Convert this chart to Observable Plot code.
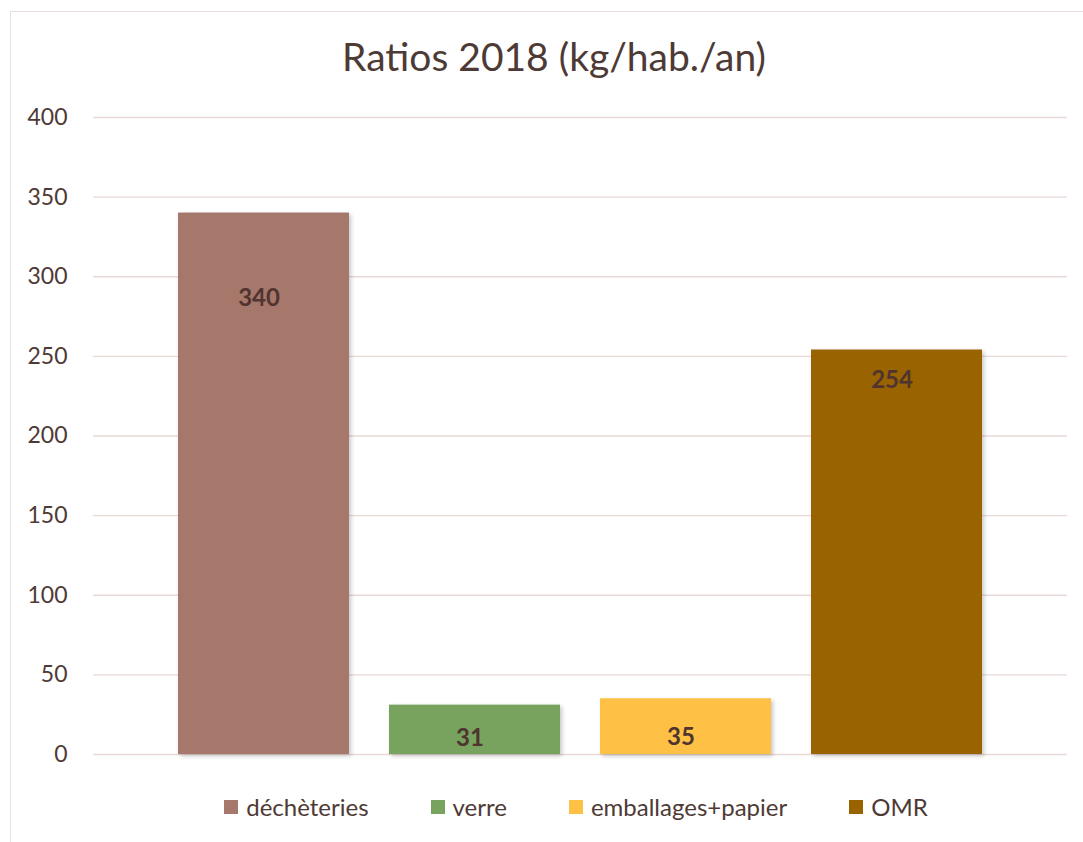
<!DOCTYPE html>
<html><head><meta charset="utf-8">
<script src="https://cdn.jsdelivr.net/npm/d3@7"></script>
<script src="https://cdn.jsdelivr.net/npm/@observablehq/plot@0.6"></script>
<style>
body{margin:0;background:#fff;font-family:Lato,"Open Sans",sans-serif;color:#4E3A35;}
#frame{position:absolute;left:10px;top:11px;width:1100px;height:900px;border-left:1.5px solid #EADFDB;border-top:1.5px solid #EADFDB;}
#title{position:absolute;left:0;width:1108px;top:33px;text-align:center;font-size:39px;color:#4E3A35;}
#chart{position:absolute;left:0;top:100px;}
#legend{position:absolute;left:0;width:1152px;top:792px;display:flex;justify-content:center;gap:62px;font-size:24px;color:#4E3A35;}
#legend .it{display:flex;align-items:center;}
#legend .sw{width:14px;height:14px;margin-right:8px;}
</style></head>
<body>
<div id="frame"></div>
<div id="title">Ratios 2018 (kg/hab./an)</div>
<div id="chart"></div>
<div id="legend"></div>
<script>
const categories = ["déchèteries", "verre", "emballages+papier", "OMR"];
const values = [340, 31, 35, 254];
const colors = ["#A6776B", "#77A35F", "#FFC145", "#996300"];
const yTicks = [0, 50, 100, 150, 200, 250, 300, 350, 400];
const labelOffsets = [85, 33, 39, 30];

const data = categories.map((c, i) => ({cat: c, value: values[i]}));

const labelMarks = data.map((d, i) =>
  Plot.text([d], {x: "cat", y: "value", text: dd => String(dd.value), dy: labelOffsets[i], dx: -5,
    fill: "#50342F", fontWeight: "bold", fontSize: 24}));

const chart = Plot.plot({
  width: 1083, height: 680,
  marginTop: 17, marginBottom: 26, marginLeft: 93, marginRight: 16,
  style: {fontFamily: "Lato, 'Open Sans', sans-serif", fontSize: "23px", color: "#4E3A35", background: "transparent"},
  x: {type: "band", domain: categories, range: [177, 982], paddingInner: 0.19, paddingOuter: 0, axis: null},
  y: {domain: [0, 400], ticks: yTicks, tickSize: 0, tickPadding: 26, label: null, tickFormat: d => String(d)},
  color: {domain: categories, range: colors},
  marks: [
    Plot.ruleY(yTicks, {stroke: "#E8D9D6", strokeWidth: 1.3}),
    Plot.barY(data, {x: "cat", y: "value", fill: "cat"}),
    ...labelMarks
  ]
});
const yax = chart.querySelector('g[aria-label="y-axis tick label"]') || chart.querySelector('g[aria-label="y-axis"]');
if (yax) { yax.setAttribute("font-size", "23"); yax.setAttribute("fill", "#4E3A35"); }
chart.querySelectorAll('g[aria-label="bar"] rect').forEach(r => { r.style.filter = "drop-shadow(2px 2px 2px rgba(0,0,0,0.22))"; });
document.getElementById("chart").appendChild(chart);

const legend = document.getElementById("legend");
categories.forEach((c, i) => {
  const it = document.createElement("div"); it.className = "it";
  const sw = document.createElement("div"); sw.className = "sw"; sw.style.background = colors[i];
  const tx = document.createElement("span"); tx.textContent = c;
  it.appendChild(sw); it.appendChild(tx); legend.appendChild(it);
});
</script>
</body></html>
